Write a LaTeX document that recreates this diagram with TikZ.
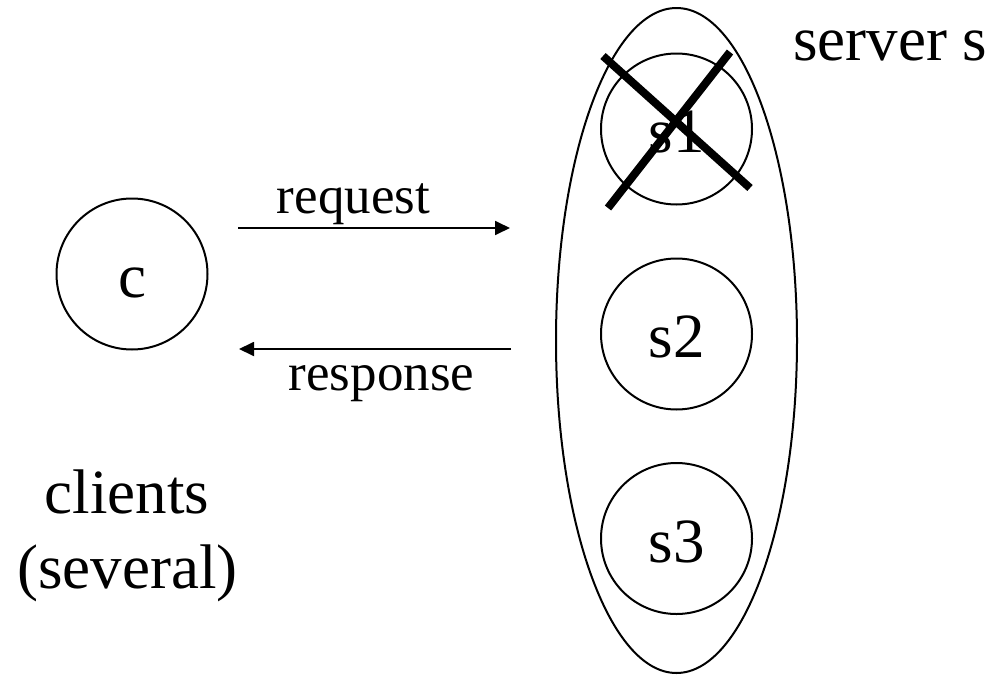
\documentclass[tikz,border=0pt]{standalone}
\usepackage{fontspec}
\setmainfont{Liberation Serif}
\usetikzlibrary{arrows.meta,shapes.geometric}
\begin{document}
\begin{tikzpicture}[x=1pt,y=-1pt,
  bigtext/.style={font=\fontsize{63}{75}\selectfont},
  smalltext/.style={font=\fontsize{53}{64}\selectfont, inner sep=0pt},
  proc/.style={circle, draw, line width=2pt, minimum size=151pt, inner sep=0pt,
    bigtext, text height=47pt, text depth=0pt},
  group/.style={ellipse, draw, line width=2pt, minimum width=241pt,
    minimum height=665pt, inner sep=0pt},
  msg/.style={line width=1.8pt, -{Triangle[length=15pt,width=14pt]}},
  killed/.style={line width=8pt}]
  \useasboundingbox (0,0) rectangle (994,675);

  % server group and its replicas
  \node[group] (srv) at (676.5,340.5) {};
  \node[proc] (s1) at (676.5,129) {s1};
  \node[proc] (s2) at (676.5,334) {s2};
  \node[proc] (s3) at (676.5,538.5) {s3};
  \node[bigtext, anchor=base west, inner sep=0pt] (srvlabel) at (793,60) {server s};

  % failed replica s1 is crossed out
  \coordinate (xa) at (603,56);
  \coordinate (xb) at (750,188);
  \coordinate (xc) at (608,208);
  \coordinate (xd) at (730,52);
  \draw[killed] (xa) -- (xb);
  \draw[killed] (xc) -- (xd);

  % client
  \node[proc] (c) at (132,274) {c};
  \node[bigtext, anchor=base, inner sep=0pt] (cl1) at (127,513) {clients};
  \node[bigtext, anchor=base, inner sep=0pt] (cl2) at (127.5,588) {(several)};

  % messages
  \coordinate (reqA) at (238,228);
  \coordinate (reqB) at (510,228);
  \coordinate (resA) at (511,349);
  \coordinate (resB) at (239,349);
  \draw[msg] (reqA) -- (reqB);
  \draw[msg] (resA) -- (resB);
  \node[smalltext, anchor=base] (reqlabel) at (353.5,213) {request};
  \node[smalltext, anchor=base] (reslabel) at (381.5,390) {response};
\end{tikzpicture}
\end{document}
